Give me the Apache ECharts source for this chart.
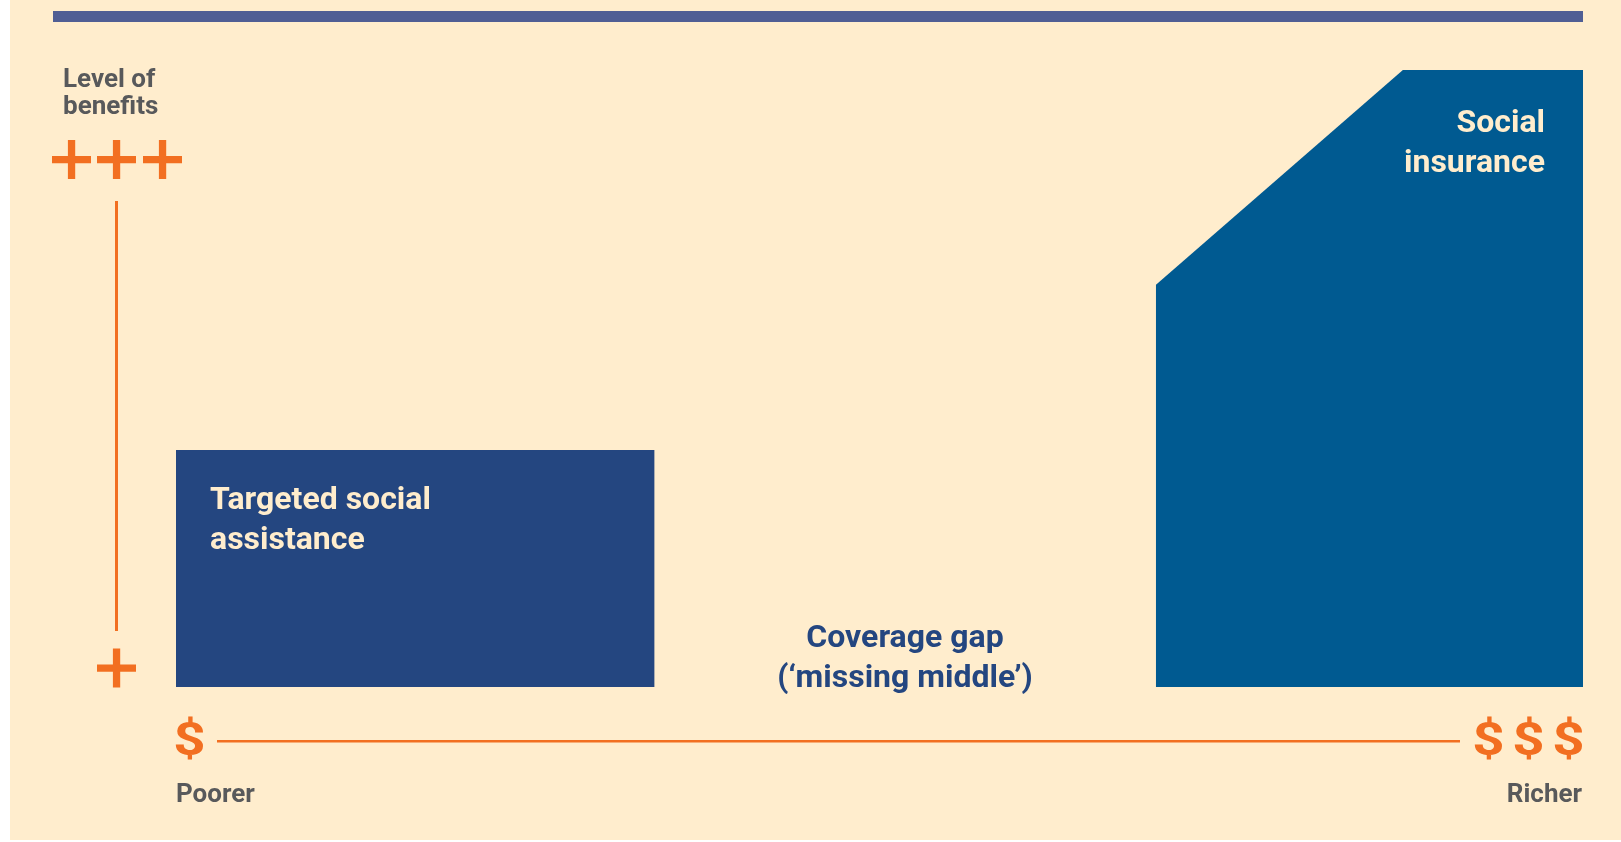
<!DOCTYPE html>
<html>
<head>
<meta charset="utf-8">
<script src="https://cdn.jsdelivr.net/npm/echarts@6/dist/echarts.min.js"></script>
<style>
html,body{margin:0;padding:0;background:#ffffff;}
#chart{width:1621px;height:842px;}
</style>
</head>
<body>
<div id="chart"></div>
<script>
// ---- Data (conceptual scale: income 0-100, level of benefits 0-100) ----
const programmes = ['Targeted social\nassistance', 'Social\ninsurance'];
const gapLabel = 'Coverage gap\n(\u2018missing middle\u2019)';
const yAxisTitle = 'Level of\nbenefits';
const xAxisLabels = ['Poorer', 'Richer'];
const assistanceIncome = [0, 0, 34.0, 34.0];
const assistanceLevel = [0, 38.4, 38.4, 0];
const insuranceIncome = [69.65, 69.65, 87.2, 100, 100];
const insuranceLevel = [0, 65.2, 100, 100, 0];

const CREAM = '#FFEDCD';
const ORANGE = '#F26F21';
const GRAY = '#58595B';
const NAVY = '#244680';
const BLUE = '#005A91';
const FONT = 'Roboto, "Noto Sans", sans-serif';

const chart = echarts.init(document.getElementById('chart'), null, {renderer: 'canvas'});

function shapeSeries(name, xs, ys, color) {
  return {
    type: 'custom',
    name: name,
    coordinateSystem: 'cartesian2d',
    data: [[xs[0], ys[0]]],
    renderItem: function (params, api) {
      const pts = xs.map((x, i) => api.coord([x, ys[i]]));
      return {type: 'polygon', shape: {points: pts}, style: {fill: color}};
    },
    silent: true,
    z: 2
  };
}

function plus(cx, cy) {
  return [
    {type: 'rect', shape: {x: cx - 19.5, y: cy - 3.6, width: 39, height: 7.3}, style: {fill: ORANGE}},
    {type: 'rect', shape: {x: cx - 3.6, y: cy - 19.5, width: 7.3, height: 39}, style: {fill: ORANGE}}
  ];
}

function txt(x, y, text, size, color, align, lh, sx) {
  return {
    type: 'text', x: x, y: y, z: 100, scaleX: sx || 1,
    style: {text: text, fill: color, font: 'bold ' + size + 'px ' + FONT,
      textAlign: align, textVerticalAlign: 'middle', lineHeight: lh || size}
  };
}

const graphics = [
  {type: 'rect', shape: {x: 0, y: 0, width: 10, height: 842}, style: {fill: '#ffffff'}},
  {type: 'rect', shape: {x: 0, y: 840, width: 1621, height: 2}, style: {fill: '#ffffff'}},
  {type: 'rect', shape: {x: 53, y: 11, width: 1530, height: 11}, style: {fill: '#505E94'}},
  // axis decorations
  {type: 'rect', shape: {x: 115, y: 201, width: 3, height: 430}, style: {fill: ORANGE}},
  {type: 'rect', shape: {x: 217, y: 740, width: 1243, height: 2.6}, style: {fill: ORANGE}},
  ...plus(71.5, 159.5), ...plus(116.5, 159.5), ...plus(162.5, 159.5),
  ...plus(116.5, 668),
  txt(189.5, 743, '$', 47, ORANGE, 'center', null, 1.2),
  txt(1488.5, 743, '$', 47, ORANGE, 'center', null, 1.2),
  txt(1528.5, 743, '$', 47, ORANGE, 'center', null, 1.2),
  txt(1568.5, 743, '$', 47, ORANGE, 'center', null, 1.2),
  txt(63, 94, yAxisTitle, 26, GRAY, 'left', 27),
  txt(176, 795, xAxisLabels[0], 26, GRAY, 'left'),
  txt(1582, 795, xAxisLabels[1], 26, GRAY, 'right'),
  txt(210, 521, programmes[0], 32, CREAM, 'left', 40),
  txt(1545, 144, programmes[1], 32, CREAM, 'right', 40),
  txt(905, 659, gapLabel, 32, NAVY, 'center', 40)
];

chart.setOption({
  backgroundColor: CREAM,
  animation: false,
  grid: {left: 176, right: 38, top: 70, bottom: 155},
  xAxis: {type: 'value', min: 0, max: 100, show: false},
  yAxis: {type: 'value', min: 0, max: 100, show: false},
  series: [
    shapeSeries(programmes[0], assistanceIncome, assistanceLevel, NAVY),
    shapeSeries(programmes[1], insuranceIncome, insuranceLevel, BLUE)
  ],
  graphic: graphics
});
</script>
</body>
</html>
